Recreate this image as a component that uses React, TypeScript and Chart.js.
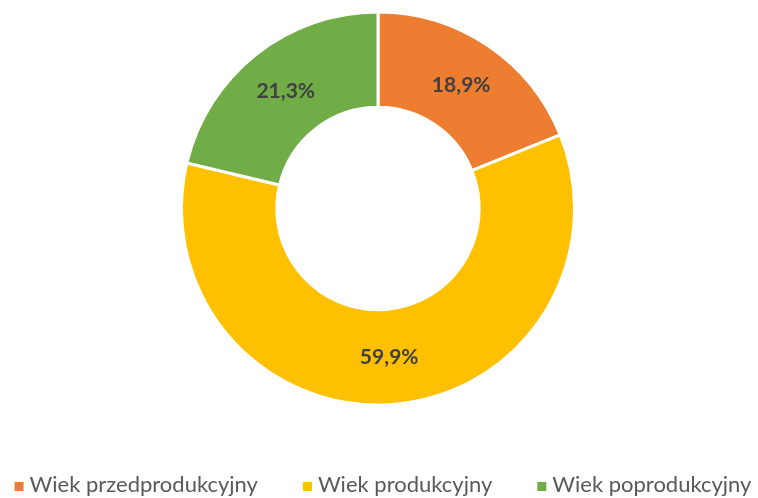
import React, { useEffect, useRef } from 'react';
import { Chart, registerables } from 'chart.js';

Chart.register(...registerables);

const categories: string[] = ['Wiek przedprodukcyjny', 'Wiek produkcyjny', 'Wiek poprodukcyjny'];
const values: number[] = [18.9, 59.9, 21.3];
const colors: string[] = ['#ED7D31', '#FFC000', '#70AD47'];

const fmt = (v: number) => v.toFixed(1).replace('.', ',') + '%';

const sliceLabels = {
  id: 'sliceLabels',
  afterDatasetsDraw(chart: any) {
    const ctx = chart.ctx;
    const meta = chart.getDatasetMeta(0);
    ctx.save();
    ctx.font = 'bold 21px Lato';
    ctx.fillStyle = '#404040';
    ctx.textAlign = 'center';
    ctx.textBaseline = 'middle';
    meta.data.forEach((arc: any, i: number) => {
      const p = arc.tooltipPosition(false);
      ctx.fillText(fmt(values[i]), p.x, p.y);
    });
    ctx.restore();
  },
};

const bottomLegend = {
  id: 'bottomLegend',
  afterDraw(chart: any) {
    const ctx = chart.ctx;
    ctx.save();
    ctx.font = '22px Lato';
    const box = 9;
    const boxGap = 6;
    const itemGap = 45;
    const widths = categories.map((c) => ctx.measureText(c).width);
    const total =
      widths.reduce((a, w) => a + box + boxGap + w, 0) + itemGap * (categories.length - 1);
    let x = (chart.width - total) / 2 + 4;
    const baseline = chart.height - 6;
    ctx.textBaseline = 'alphabetic';
    ctx.textAlign = 'left';
    categories.forEach((c, i) => {
      ctx.fillStyle = colors[i];
      ctx.fillRect(x, baseline - box - 1, box, box);
      x += box + boxGap;
      ctx.fillStyle = '#595959';
      ctx.fillText(c, x, baseline);
      x += widths[i] + itemGap;
    });
    ctx.restore();
  },
};

export default function App() {
  const ref = useRef<HTMLCanvasElement | null>(null);
  useEffect(() => {
    if (!ref.current) return;
    const chart = new Chart(ref.current, {
      type: 'doughnut',
      data: {
        labels: categories,
        datasets: [
          {
            data: values,
            backgroundColor: colors,
            borderColor: '#FFFFFF',
            borderWidth: 3,
            radius: 196.5,
            cutout: '51.5%',
          } as any,
        ],
      },
      options: {
        animation: false,
        responsive: false,
        layout: { padding: { top: 0, left: 0, right: 2, bottom: 81 } },
        plugins: {
          legend: { display: false },
          tooltip: { enabled: false },
        },
      },
      plugins: [sliceLabels, bottomLegend],
    });
    return () => chart.destroy();
  }, []);
  return (
    <div style={{ position: 'absolute', left: 0, top: 0, width: 758, height: 498, background: '#fff' }}>
      <canvas ref={ref} width={758} height={498} />
    </div>
  );
}
